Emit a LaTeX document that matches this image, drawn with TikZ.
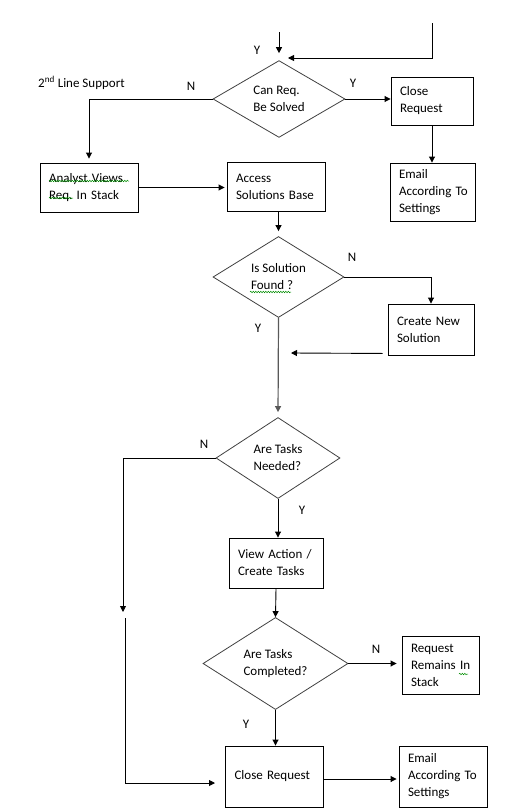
\documentclass[tikz,border=0pt]{standalone}
\usepackage{fontspec}
\setmainfont{Carlito}
\usetikzlibrary{shapes.geometric,arrows.meta,decorations.pathmorphing}
\frenchspacing

\begin{document}
\begin{tikzpicture}[x=1pt, y=-1pt,
  every node/.style={font=\fontsize{13}{17}\selectfont},
  box/.style={draw, line width=0.9pt, align=left, inner xsep=9pt, inner ysep=0pt},
  ask/.style={draw=black!75, line width=0.8pt, diamond, align=left, inner sep=0pt},
  tip/.style={-{Triangle[length=6pt,width=6pt]}, line width=0.9pt},
  yn/.style={inner sep=0pt},
  spell/.style={draw=green!55!black, line width=0.5pt, decorate, decoration={snake, amplitude=0.7pt, segment length=2.5pt}}]
\useasboundingbox (0,0) rectangle (514,811);

%question 1
\node[ask, minimum width=132pt, minimum height=73pt] (Q1) at (279,99) {Can Req.\\Be Solved};
\node[box, text width=64pt, minimum height=48pt] (B1) at (432,101) {Close\\Request};
\node[box, text width=67pt, minimum height=58pt] (B2) at (432.5,192) {Email\\According~To\\Settings};
\node[box, text width=80pt, minimum height=49pt] (B3) at (89,187.5) {Analyst Views\\Req. In Stack};
\node[box, text width=80pt, minimum height=49pt] (B4) at (276,186.5) {Access\\Solutions Base};
\node[yn, anchor=west] (L0) at (38,83) {2\textsuperscript{nd} Line Support};
\node[yn] (Y0) at (257,50) {Y};
\node[yn] (N1) at (191,86) {N};
\node[yn] (Y1) at (353,83) {Y};
\coordinate (T0) at (279,32);
\coordinate (R0) at (432,23);
\coordinate (R1) at (288,58);
\draw[tip, shorten >=7pt] (T0) -- (Q1.north);
\draw[tip] (R0) |- (R1);
\draw[tip] (Q1.east) -- (Q1.east -| B1.west);
\draw[tip] (B1.south) -- (B1.south |- B2.north);
\draw[tip, shorten >=4pt] (Q1.west) -| (B3.north);
\draw[tip, shorten >=2pt] (B3.east) -- (B3.east -| B4.west);

%question 2
\node[ask, minimum width=131pt, minimum height=73pt] (Q2) at (278.5,277) {Is Solution\\Found ?};
\node[box, text width=68pt, minimum height=51pt] (B5) at (431,329.5) {Create New\\Solution};
\node[yn] (N2) at (352,257) {N};
\node[yn] (Y2) at (258,328) {Y};
\coordinate (C1) at (291,353);
\draw[tip, shorten >=5pt] (Q2.north |- B4.south) -- (Q2.north);
\draw[tip] (Q2.east) -| (B5.north);
\draw[tip] ([xshift=-5pt, yshift=2pt]B5.south west) -- (C1);

%question 3
\node[ask, minimum width=124pt, minimum height=81pt] (Q3) at (278,458) {Are Tasks\\Needed?};
\node[box, text width=76pt, minimum height=50pt] (B6) at (276,563) {View Action /\\Create Tasks};
\node[yn] (N3) at (204,444) {N};
\node[yn] (Y3) at (302,510) {Y};
\coordinate (L1) at (123,612);
\draw[tip, draw=black!65, line width=1.2pt, shorten >=5pt] (Q2.south) -- (Q3.north);
\draw[tip] (Q3.west) -| (L1);
\draw[tip] (Q3.south) -- (Q3.south |- B6.north);

%question 4
\node[ask, minimum width=145pt, minimum height=91pt] (Q4) at (275.5,663.5) {Are Tasks\\Completed?};
\node[box, text width=59pt, minimum height=58pt] (B7) at (440.5,665) {Request\\Remains~In\\Stack};
\node[box, text width=80pt, minimum height=61pt] (B8) at (274.5,776.5) {Close Request};
\node[box, text width=70pt, minimum height=61pt] (B9) at (443,776.5) {Email\\According~To\\Settings};
\node[yn] (N4) at (376,649) {N};
\node[yn] (Y4) at (246,724) {Y};
\coordinate (L2) at (125,618);
\coordinate (L3) at (215,783);
\draw[tip] (B6.south) -- (Q4.north);
\draw[tip, shorten >=5pt] (Q4.east) -- (Q4.east -| B7.west);
\draw[tip] (Q4.south) -- (Q4.south |- B8.north);
\draw[tip] (L2) |- (L3);
\draw[tip, shorten >=2pt] ([yshift=-2.5pt]B8.east) -- ([yshift=-2.5pt]B9.west);

%spelling marks
\draw[spell] (49,181) -- (129,181);
\draw[spell] (49,198) -- (73,198);
\draw[spell] (250,292) -- (291,292);
\draw[spell] (459,674) -- (468,674);
\end{tikzpicture}
\end{document}
